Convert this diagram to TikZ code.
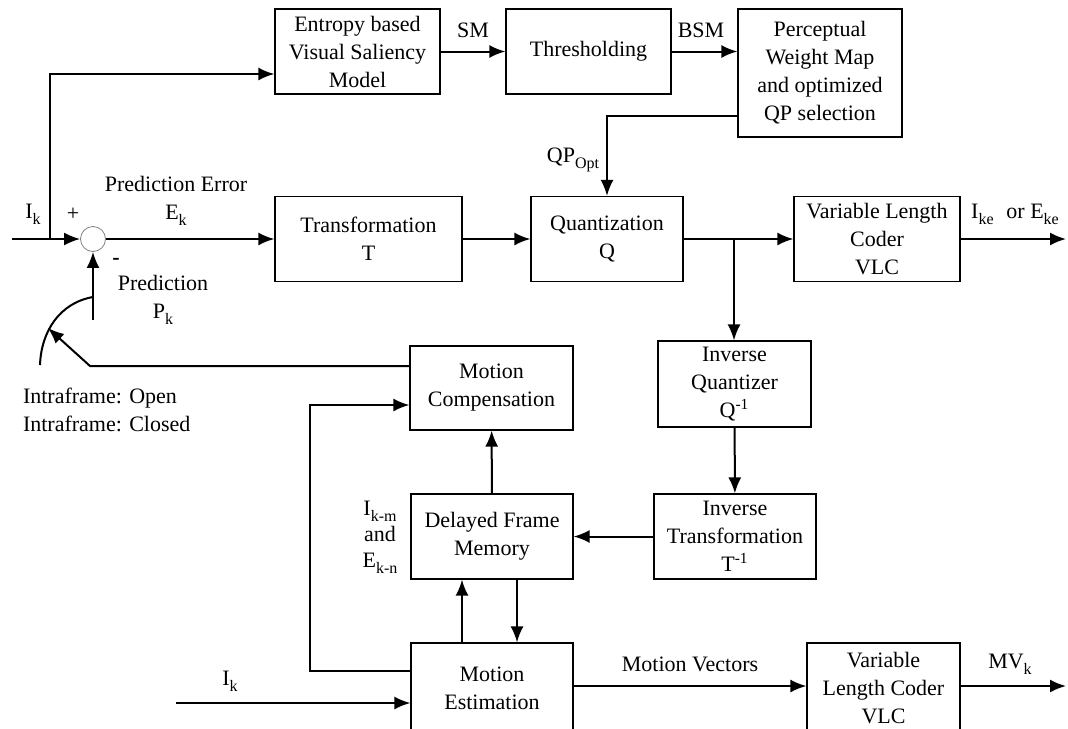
\documentclass[tikz,border=0pt]{standalone}
\usepackage{fontspec}
\setmainfont{LiberationSerif}[Extension=.ttf, UprightFont=*-Regular, BoldFont=*-Bold, ItalicFont=*-Italic, BoldItalicFont=*-BoldItalic]
\usetikzlibrary{%
  arrows.meta,%
  positioning,%
  calc%
}
\newcommand{\lowsub}[1]{\raisebox{-0.6ex}{\footnotesize #1}}

\begin{document}
\begin{tikzpicture}[
  x=0.5pt, y=-0.5pt,
  >={Latex[length=8pt,width=6.5pt]},
  line width=1pt,
  font=\fontsize{11}{14}\selectfont,
  blk/.style={draw, line width=0.6pt, align=center, inner sep=0pt},
  lbl/.style={align=center, inner sep=0pt},
]
\useasboundingbox (0,0) rectangle (1068,728);

% upper path
\node[blk, minimum width=82.5pt, minimum height=42.5pt] (ent) at (357.5,51.5) {Entropy based\\Visual Saliency\\Model};
\node[blk, minimum width=82.5pt, minimum height=42.5pt] (thr) at (588.5,51.5) {Thresholding};
\node[blk, minimum width=82pt, minimum height=64pt] (pwm) at (820,73) {Perceptual\\Weight Map\\and optimized\\QP selection};

% main loop
\node[circle, draw=gray, line width=0.4pt, minimum size=12.5pt, inner sep=0pt] (sum) at (93,239) {};
\node[blk, minimum width=93.5pt, minimum height=42.5pt] (trans) at (368.5,239) {Transformation\\T};
\node[blk, minimum width=76pt, minimum height=42.5pt] (quant) at (607,239) {Quantization\\Q};
\node[blk, minimum width=83pt, minimum height=42.5pt] (vlc1) at (877,239) {Variable Length\\Coder\\VLC};

\node[blk, minimum width=76.5pt, minimum height=43pt] (iq) at (734.5,384) {Inverse\\Quantizer\\Q\textsuperscript{-1}};
\node[blk, minimum width=81pt, minimum height=42.5pt] (it) at (735,536.5) {Inverse\\Transformation\\T\textsuperscript{-1}};

\node[blk, minimum width=81.5pt, minimum height=42pt] (mc) at (491.5,388) {Motion\\Compensation};
\node[blk, minimum width=81pt, minimum height=42.5pt] (dfm) at (492,536.5) {Delayed Frame\\Memory};
\node[blk, minimum width=81pt, minimum height=45pt] (me) at (492,688) {Motion\\Estimation};
\node[blk, minimum width=76.5pt, minimum height=45pt] (vlc2) at (883.5,688) {Variable\\Length Coder\\VLC};

% free ends
\coordinate (in1) at (12,239);
\coordinate (br1) at (50,239);
\coordinate (out1) at (1066,239);
\coordinate (qbr) at (734,239);
\coordinate (pk) at (93,320);
\coordinate (swa) at (40,365);
\coordinate (swb) at (93,297);
\coordinate (swtip) at (48,328);
\coordinate (bend) at (90,366);
\coordinate (in2) at (176,703);
\coordinate (mvy) at (573,686);
\coordinate (out2) at (1066,686);

% labels
\node[lbl] (lik) at (33,214) {I\lowsub{k}};
\node[lbl] (lplus) at (73,214) {+};
\node[lbl] (lerr) at (176,201) {Prediction Error\\E\lowsub{k}};
\node[lbl] (lminus) at (116,261) {\textbf{-}};
\node[lbl] (lpred) at (163,300) {Prediction\\P\lowsub{k}};
\node[lbl] (lsm) at (473,30) {SM};
\node[lbl] (lbsm) at (701,30) {BSM};
\node[lbl] (lqp) at (573,160) {QP\lowsub{Opt}};
\node[lbl] (lout1) at (1015,214) {I\lowsub{ke}\,\, or E\lowsub{ke}};
\node[lbl, align=left, anchor=west] (lintra) at (22,410) {Intraframe: Open\\Intraframe: Closed};
\node[lbl] (lmem) at (380,537) {I\lowsub{k-m}\\[-1pt]and\\[-1pt]E\lowsub{k-n}};
\node[lbl] (lmv) at (690,664) {Motion Vectors};
\node[lbl] (lmvk) at (1010,664) {MV\lowsub{k}};
\node[lbl] (lik2) at (230,681) {I\lowsub{k}};

% connectors
\draw[->] (in1) -- (sum);
\draw[->] (br1) |- ([yshift=-11.25pt]ent.west);
\draw[->] (ent) -- (thr);
\draw[->] (thr.east) -- (thr.east -| pwm.west);
\draw[->] ([yshift=-21.5pt]pwm.west) -| (quant.north);
\draw[->] (sum) -- (sum -| trans.west);
\draw[->] (trans) -- (quant);
\draw[->] (quant) -- (vlc1);
\draw[->] (vlc1) -- (out1);
\draw[->] (qbr) -- (qbr |- iq.north);
\draw[->] (iq) -- (it);
\draw[->] (it) -- (dfm);
\draw[->] (dfm) -- (mc);
\draw[->] ([xshift=-15pt]me.north) -- ([xshift=-15pt]dfm.south);
\draw[->] ([xshift=12.5pt]dfm.south) -- ([xshift=12.5pt]me.north);
\draw[->] (me.west |- 0,671) -- ++(-100,0) |- ([yshift=-8.5pt]mc.west);
\draw[->] (in2) -- (in2 -| me.west);
\draw[->] (mvy) -- (mvy -| vlc2.west);
\draw[->] (mvy -| vlc2.east) -- (out2);
\draw[->] (pk) -- (sum);
\draw[->] ([yshift=11pt]mc.west) -- (bend) -- (swtip);
\draw (swa) to[out=88,in=190] (swb);

\end{tikzpicture}
\end{document}
